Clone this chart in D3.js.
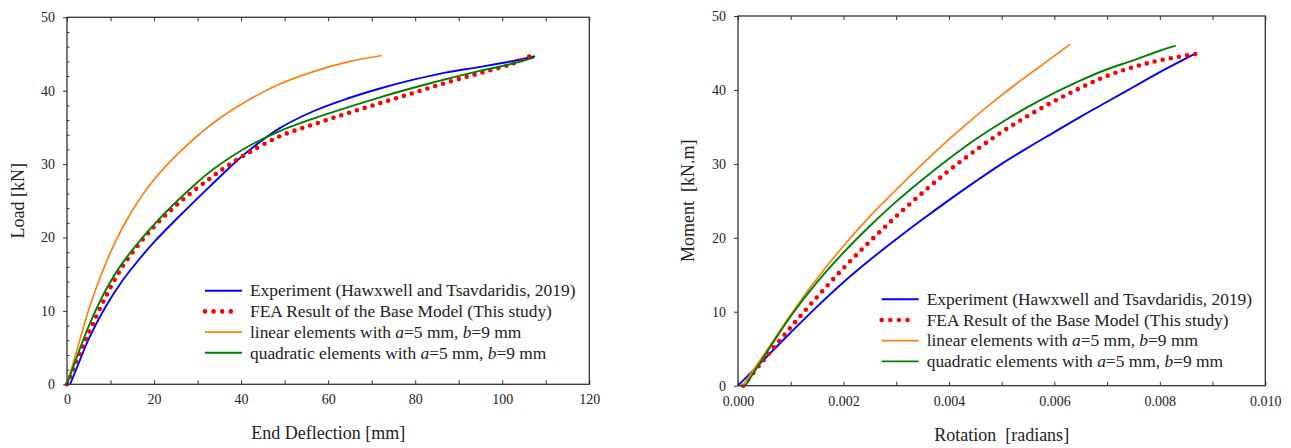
<!DOCTYPE html>
<html><head><meta charset="utf-8">
<script src="https://cdn.jsdelivr.net/npm/d3@7/dist/d3.min.js"></script>
<style>
html,body{margin:0;padding:0;background:#fff;}
svg{display:block;}
svg text{font-family:"Liberation Serif","Times New Roman","DejaVu Serif","Noto Serif",Times,serif !important;}
</style></head><body>
<svg id="chart" width="1291" height="448"></svg>
<script>
// ---------- Left panel: Load vs End Deflection ----------
const leftExpDefl  = [0.7,2.5,5,8.7,12.6,16.4,20.2,27,32.9,41.3,48.9,56.6,64.3,71.9,79.6,87.2,94.9,102.5,107.5];
const leftExpLoad  = [0,2.6,6.2,10.4,14.0,16.9,19.5,23.6,27.0,31.6,34.9,37.2,38.9,40.3,41.5,42.5,43.25,44.05,44.7];
const leftFeaDefl  = [0,0.7,1.5,3,5,8.7,12.6,16.4,20.2,24,27.9,32.5,36,41.3,48.9,56.6,64.3,71.9,79.6,87.2,94.9,102.5,107.4];
const leftFeaLoad  = [0,1.0,2.2,4.3,7.0,11.7,15.9,19.0,21.6,23.8,25.8,27.9,29.4,31.4,33.8,35.4,36.9,38.3,39.7,41.1,42.4,43.7,45.0];
const leftLinDefl  = [0,2.5,4.9,7.2,10,13,16,20,26,33.6,41.3,48.9,56.6,64.3,72.3];
const leftLinLoad  = [0,5.1,10.0,13.9,18.0,21.6,24.6,27.9,31.7,35.6,38.6,40.9,42.6,43.9,44.8];
const leftQuadDefl = [0,2,4.9,8.7,12.6,20.2,30.1,33.6,41.3,48.9,56.6,64.3,71.9,79.6,87.2,94.9,102.5,107.3];
const leftQuadLoad = [0,3.3,7.8,12.6,16.4,21.9,27.6,29.3,32.3,34.5,36.2,37.7,39.1,40.4,41.6,42.7,43.7,44.5];
const leftXTicks = [0,20,40,60,80,100,120];
const leftYTicks = [0,10,20,30,40,50];

// ---------- Right panel: Moment vs Rotation ----------
const rightExpRot  = [0,0.0005,0.001,0.0015,0.002,0.0025,0.003,0.0035,0.004,0.0045,0.005,0.0055,0.006,0.0065,0.007,0.0075,0.008,0.0087];
const rightExpMom  = [0,3.6,7.2,10.7,14.0,17.0,19.8,22.5,25.1,27.6,30.0,32.2,34.3,36.4,38.4,40.4,42.4,45.0];
const rightFeaRot  = [0.0001,0.0005,0.001,0.0015,0.002,0.0025,0.003,0.0035,0.004,0.0045,0.005,0.0055,0.006,0.0065,0.007,0.0075,0.008,0.0087];
const rightFeaMom  = [0,3.6,7.9,12.0,15.9,19.5,22.9,26.1,29.1,31.8,34.3,36.5,38.5,40.3,41.9,43.1,44.0,44.9];
const rightLinRot  = [0.00009,0.0005,0.001,0.0015,0.002,0.0025,0.003,0.0035,0.004,0.0045,0.005,0.0055,0.006,0.0063];
const rightLinMom  = [0,4.3,9.6,14.5,18.9,22.9,26.5,30.0,33.3,36.4,39.3,42.0,44.6,46.2];
const rightQuadRot = [0.00014,0.0005,0.001,0.0015,0.002,0.0025,0.003,0.0035,0.004,0.0045,0.005,0.0055,0.006,0.0065,0.007,0.0075,0.008,0.0083];
const rightQuadMom = [0,4.0,9.4,14.0,18.0,21.6,24.9,27.9,30.7,33.3,35.6,37.7,39.6,41.3,42.8,44.0,45.3,46.0];
const rightXTicks = [0,0.002,0.004,0.006,0.008,0.010];
const rightYTicks = [0,10,20,30,40,50];

const legendLabels = [
  "Experiment (Hawxwell and Tsavdaridis, 2019)",
  "FEA Result of the Base Model (This study)",
  ["linear elements with ", "a", "=5 mm, ", "b", "=9 mm"],
  ["quadratic elements with ", "a", "=5 mm, ", "b", "=9 mm"]
];
const seriesColors = ["#0000ff", "#ff0000", "#ff7f0e", "#008000"];

const svg = d3.select("#chart");
const axisColor = "#333";

function zip(xs, ys){ return xs.map((x,i)=>[x, ys[i]]); }

function panel(opts){
  const x = d3.scaleLinear().domain(opts.xDomain).range(opts.xRange);
  const y = d3.scaleLinear().domain([0,50]).range(opts.yRange);
  const g = svg.append("g");
  const [x0,x1] = opts.xRange, [y0,y1] = opts.yRange; // y0 bottom, y1 top

  const line = d3.line().x(d=>x(d[0])).y(d=>y(d[1])).curve(d3.curveCatmullRom.alpha(0.5));
  const styles = [
    {w:1.9, dash:null},
    {w:4.6, dash:"0 8.2", cap:"round"},
    {w:1.7, dash:null},
    {w:1.9, dash:null}
  ];
  opts.series.forEach((s,i)=>{
    g.append("path").attr("d", line(s))
      .attr("fill","none").attr("stroke", seriesColors[i])
      .attr("stroke-width", styles[i].w)
      .attr("stroke-dasharray", styles[i].dash)
      .attr("stroke-linecap", styles[i].cap || "butt")
      .attr("stroke-linejoin","round");
  });

  const bottom = g.append("g").attr("transform",`translate(0,${y0})`)
    .call(d3.axisBottom(x).tickValues(opts.xMinor).tickSizeInner(-4).tickSizeOuter(0)
      .tickPadding(10).tickFormat(d => opts.xTicks.some(t=>Math.abs(t-d)<1e-9) ? opts.xFmt(d) : ""));
  const top = g.append("g").attr("transform",`translate(0,${y1})`)
    .call(d3.axisTop(x).tickValues(opts.xMinor).tickSizeInner(-4).tickSizeOuter(0).tickFormat(""));
  const left = g.append("g").attr("transform",`translate(${x0},0)`)
    .call(d3.axisLeft(y).tickValues(opts.yTicks).tickSizeInner(4).tickSizeOuter(0).tickPadding(8).tickFormat(d3.format("d")));
  if (opts.yMinor){
    g.append("g").attr("transform",`translate(${x0},0)`)
      .call(d3.axisLeft(y).tickValues(opts.yMinor).tickSizeInner(-2.5).tickSizeOuter(0).tickFormat(""))
      .select(".domain").remove();
  }
  [bottom, top, left].forEach(a=>{
    a.attr("font-family", null);
    a.select(".domain").remove();
    a.selectAll("line").attr("stroke",axisColor).attr("stroke-width",1);
    a.selectAll("text").attr("font-size",14).attr("fill","#222");
  });
  g.selectAll("line").attr("stroke",axisColor);
  g.append("rect").attr("x",x0).attr("y",y1).attr("width",x1-x0).attr("height",y0-y1)
    .attr("fill","none").attr("stroke",axisColor).attr("stroke-width",1.3);

  g.append("text").attr("x",(x0+x1)/2).attr("y",opts.xTitleY)
    .attr("text-anchor","middle").attr("font-size",18).attr("fill","#222")
    .style("white-space","pre").text(opts.xTitle);
  g.append("text").attr("transform",`translate(${opts.yTitleX},${(y0+y1)/2}) rotate(-90)`)
    .attr("text-anchor","middle").attr("font-size",18).attr("fill","#222")
    .style("white-space","pre").text(opts.yTitle);

  const lg = g.append("g");
  legendLabels.forEach((lab,i)=>{
    const ly = opts.legY + i*opts.legStep;
    lg.append("line").attr("x1",opts.legX).attr("x2",opts.legX + (i===1 ? 34.4 : 37))
      .attr("y1",ly).attr("y2",ly)
      .attr("stroke",seriesColors[i]).attr("stroke-width",styles[i].w)
      .attr("stroke-dasharray", i===1 ? "0 8.6" : null)
      .attr("stroke-linecap", i===1 ? "round" : "butt");
    const t = lg.append("text").attr("x",opts.legX+45).attr("y",ly).attr("dy","0.33em")
      .attr("font-size",17.4).attr("fill","#222");
    if (Array.isArray(lab)){
      lab.forEach((part,k)=>{
        t.append("tspan").attr("font-style", k%2===1 ? "italic" : null).text(part);
      });
    } else t.text(lab);
  });
}

panel({
  xDomain:[0,120], xRange:[67,589.3], yRange:[384.3,17.3],
  xTicks:leftXTicks, xMinor:d3.range(0,121,10), xFmt:d3.format("d"),
  yTicks:leftYTicks, yMinor:d3.range(0,51,2).filter(v=>v%10!==0),
  series:[zip(leftExpDefl,leftExpLoad), zip(leftFeaDefl,leftFeaLoad), zip(leftLinDefl,leftLinLoad), zip(leftQuadDefl,leftQuadLoad)],
  xTitle:"End Deflection [mm]", xTitleY:439,
  yTitle:"Load [kN]", yTitleX:24,
  legX:205, legY:290.7, legStep:20.7
});
panel({
  xDomain:[0,0.010], xRange:[738,1265.3], yRange:[385.7,16],
  xTicks:rightXTicks, xMinor:d3.range(0,11,1).map(v=>v/1000), xFmt:d3.format(".3f"),
  yTicks:rightYTicks, yMinor:null,
  series:[zip(rightExpRot,rightExpMom), zip(rightFeaRot,rightFeaMom), zip(rightLinRot,rightLinMom), zip(rightQuadRot,rightQuadMom)],
  xTitle:"Rotation  [radians]", xTitleY:441,
  yTitle:"Moment  [kN.m]", yTitleX:694,
  legX:881.7, legY:299.3, legStep:20.7
});
</script>
</body></html>
